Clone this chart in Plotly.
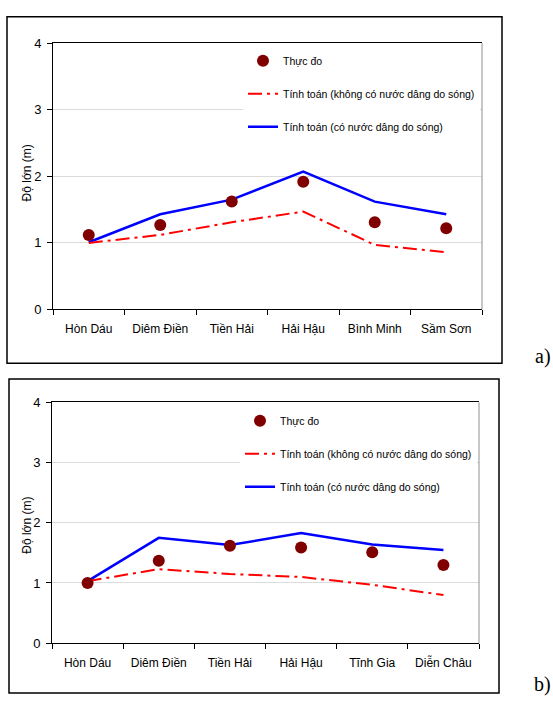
import plotly.graph_objects as go

W, H = 553, 706

cats_a = ["Hòn Dáu", "Diêm Điền", "Tiền Hải", "Hải Hậu", "Bình Minh", "Sầm Sơn"]
meas_a = [1.12, 1.27, 1.62, 1.92, 1.31, 1.22]
nowave_a = [1.00, 1.12, 1.31, 1.47, 0.97, 0.86]
wave_a = [1.01, 1.43, 1.65, 2.07, 1.62, 1.43]

cats_b = ["Hòn Dáu", "Diêm Điền", "Tiền Hải", "Hải Hậu", "Tĩnh Gia", "Diễn Châu"]
meas_b = [1.00, 1.37, 1.62, 1.59, 1.51, 1.30]
nowave_b = [1.03, 1.23, 1.15, 1.10, 0.97, 0.80]
wave_b = [1.03, 1.75, 1.63, 1.83, 1.64, 1.55]

y_ticks = [0, 1, 2, 3, 4]
names = ["Thực đo", "Tính toán (không có nước dâng do sóng)", "Tính toán (có nước dâng do sóng)"]

FONT = "Liberation Sans, Arial, sans-serif"

def px(x):
    return x / W

def py(y):
    return 1 - y / H

fig = go.Figure()

panels = [
    dict(cats=cats_a, meas=meas_a, nowave=nowave_a, wave=wave_a, xa="x", ya="y", leg="legend",
         box=(7, 10, 502, 364), plot=(53, 37, 482, 309), label="a)", lab_y=370),
    dict(cats=cats_b, meas=meas_b, nowave=nowave_b, wave=wave_b, xa="x2", ya="y2", leg="legend2",
         box=(9, 380, 499, 701), plot=(52, 404, 479, 650), label="b)", lab_y=705),
]

shapes = []
annotations = []
for i, p in enumerate(panels):
    fig.add_trace(go.Scatter(x=p["cats"], y=p["wave"], mode="lines", name=names[2],
                             line=dict(color="#0000ff", width=2.5), xaxis=p["xa"], yaxis=p["ya"],
                             legend=p["leg"], legendgroup=f"c{i}", legendrank=3))
    fig.add_trace(go.Scatter(x=p["cats"], y=p["nowave"], mode="lines", name=names[1],
                             line=dict(color="#ff0000", width=2, dash="14px,5px,3px,5px"),
                             xaxis=p["xa"], yaxis=p["ya"], legend=p["leg"], legendgroup=f"b{i}",
                             legendrank=2))
    fig.add_trace(go.Scatter(x=p["cats"], y=p["meas"], mode="markers", name=names[0],
                             marker=dict(color="#800000", size=12), xaxis=p["xa"], yaxis=p["ya"],
                             legend=p["leg"], legendgroup=f"a{i}", legendrank=1))
    x0, y0, x1, y1 = p["box"]
    shapes.append(dict(type="rect", xref="paper", yref="paper", x0=px(x0), x1=px(x1),
                       y0=py(y1), y1=py(y0), line=dict(color="black", width=1.5)))
    l, t, r, b = p["plot"]
    shapes.append(dict(type="line", xref="paper", yref="paper", x0=px(r), x1=px(r),
                       y0=py(b), y1=py(t), line=dict(color="#909090", width=1)))
    annotations.append(dict(text=p["label"], xref="paper", yref="paper", x=px(552),
                            y=py(p["lab_y"]), xanchor="right", yanchor="bottom", showarrow=False,
                            borderpad=0,
                            font=dict(family="Liberation Serif, Times New Roman, serif", size=20,
                                      color="black")))
    annotations.append(dict(text="Độ lớn (m)", xref="paper", yref="paper", x=px(27),
                            y=py((t + b) / 2 + (-3 if i == 0 else 3)), textangle=-90, showarrow=False,
                            xanchor="center", yanchor="middle",
                            font=dict(family=FONT, size=12, color="black")))

    xkey = "xaxis" if i == 0 else "xaxis2"
    ykey = "yaxis" if i == 0 else "yaxis2"
    fig.update_layout(**{
        xkey: dict(domain=[px(l), px(r)], anchor=p["ya"], type="category", range=[-0.5, 5.5],
                   tickson="boundaries", ticks="outside", ticklen=5, tickcolor="black",
                   showline=True, linecolor="black", linewidth=1, mirror=True, showgrid=False,
                   tickfont=dict(family=FONT, size=12, color="black"), ticklabelstandoff=8,
                   fixedrange=True),
        ykey: dict(domain=[py(b), py(t)], anchor=p["xa"], range=[0, 4], tickvals=y_ticks,
                   ticks="outside", ticklen=5, tickcolor="black", showline=True, linecolor="black",
                   linewidth=1, showgrid=True, gridcolor="#dcdcdc", gridwidth=1, zeroline=False,
                   tickfont=dict(family=FONT, size=13, color="black"), ticklabelstandoff=3,
                   fixedrange=True),
    })

legend_common = dict(bgcolor="white", borderwidth=0,
                     font=dict(family=FONT, size=10.5, color="black"),
                     itemwidth=30, tracegroupgap=14, xanchor="left", yanchor="top",
                     traceorder="grouped")

fig.update_layout(
    width=W, height=H, margin=dict(l=0, r=0, t=0, b=0),
    paper_bgcolor="white", plot_bgcolor="white",
    showlegend=True,
    legend=dict(x=px(243), y=py(40), **legend_common),
    legend2=dict(x=px(240), y=py(408), **legend_common),
    shapes=shapes, annotations=annotations,
)

fig.write_html("out.html", config={"displayModeBar": False},
               post_script="document.body.style.margin='0';document.body.style.overflow='hidden';")
